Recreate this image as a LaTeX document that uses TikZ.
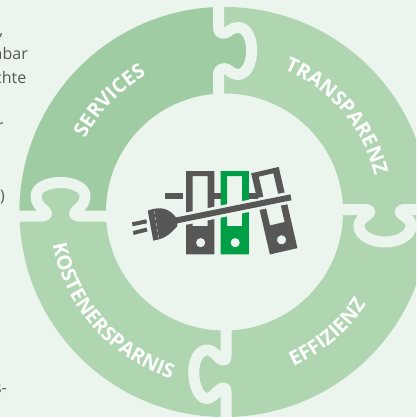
\documentclass[tikz,border=0pt]{standalone}
\usepackage{fontspec}
\setmainfont{Open Sans}
\usetikzlibrary{decorations.text}

\definecolor{pagebg}{HTML}{EBF5EE}
\definecolor{ringdark}{HTML}{A0CCA3}
\definecolor{ringlight}{HTML}{AFD6B1}
\definecolor{icongrey}{HTML}{575756}
\definecolor{icongreen}{HTML}{009F45}

\tikzset{
  seam/.style={draw=pagebg, line width=11pt, line join=round},
  margintext/.style={inner sep=0pt, text=icongrey, font=\fontsize{16}{16}\selectfont, anchor=base east},
  halo/.style={draw=pagebg, line width=12pt},
  bar/.style={draw=icongrey, line width=6.3pt}
}

% seams between the four ring pieces
\newcommand{\seamtop}{(218.5,0) -- (218.5,27) .. controls (218.5,33) and (221,33.5) .. (225,33) .. controls (229,32) and (231,27.5) .. (238,27.5) .. controls (247,27.5) and (251.7,39) .. (251.7,50) .. controls (251.7,62) and (247,74.5) .. (238,74.5) .. controls (231,74.5) and (229,68.5) .. (224,68.5) .. controls (221,68.5) and (218.5,70) .. (218.5,75) -- (218.5,100)}
\newcommand{\seamleft}{-- (79,216) .. controls (74,216) and (73,213) .. (77,210) .. controls (83,205) and (85,201) .. (85,196) .. controls (85,188) and (74,182.5) .. (60.5,182.5) .. controls (47,182.5) and (36,188) .. (36,196) .. controls (36,201) and (38,205) .. (44,210) .. controls (48,213) and (47,216) .. (42,216) -- (10,216)}
\newcommand{\seamright}{(340,209.5) -- (366,209.5) .. controls (371,209.5) and (371,213) .. (366,216) .. controls (361,219) and (359,222) .. (359,226) .. controls (359,235) and (371,242) .. (385,242) .. controls (399,242) and (411,235) .. (411,226) .. controls (411,222) and (409,219) .. (404,216) .. controls (399,213) and (399,209.5) .. (404,209.5) -- (425,209.5)}
\newcommand{\seambottom}{(226,325) -- (226,356) .. controls (226,362) and (222,361) .. (218,357) .. controls (215,353) and (211,350) .. (207,350) .. controls (199,350) and (193.7,360) .. (193.7,372) .. controls (193.7,385) and (199,398.5) .. (207,398.5) .. controls (211,398.5) and (215,394) .. (218,391) .. controls (222,387) and (226,386) .. (226,392) -- (226,420)}

% one binder: centre x, centre y, rotation, colour
\newcommand{\binder}[4]{
  \begin{scope}[shift={(#1,#2)}, rotate=#3]
    \fill[#4, even odd rule] (-14.15,-41.65) rectangle (14.15,41.65)
      (-7.5,-36.65) rectangle (7.5,13.35)
      (0.5,30) circle (4.7pt);
  \end{scope}
}

% one label on the ring: start angle, end angle, radius, text
\newcommand{\ringlabel}[4]{
  \path[decorate, decoration={text along path, text align=center,
      text={|\fontsize{20}{20}\selectfont\bfseries\color{white}|#4}}]
    ([shift={(#1:#3pt)}]ringcentre) arc[start angle=#1, end angle=#2, radius=#3pt];
}

\begin{document}
\begin{tikzpicture}[x=1pt, y=-1pt]
  \path[use as bounding box, clip] (0,0) rectangle (416,417);
  \fill[pagebg] (0,0) rectangle (416,417);
  \coordinate (ringcentre) at (224.5,212);

  % ring
  \fill[ringlight] (ringcentre) circle (205pt);
  \begin{scope}
    \clip (ringcentre) circle (205pt);
    \fill[ringdark] \seamtop -- (115,216) \seamleft -- (10,0) -- cycle;
  \end{scope}
  \fill[pagebg] (ringcentre) circle (118.5pt);

  \draw[seam] \seamtop;
  \draw[seam] (115,216) \seamleft;
  \draw[seam] \seamright;
  \draw[seam] \seambottom;

  % labels
  \ringlabel{166}{106}{157.5}{SERVICES}
  \ringlabel{76}{5}{154.5}{TRANSPARENZ}
  \ringlabel{-87}{-12}{169}{EFFIZIENZ}
  \ringlabel{175}{268}{175}{KOSTENERSPARNIS}

  % binders
  \binder{200.15}{212.65}{0}{icongrey}
  \binder{234.7}{212.65}{0}{icongreen}
  \binder{274.3}{210.7}{13}{icongrey}

  % plug
  \draw[halo] (176,220.7) -- (300,195.5);
  \draw[bar] (165,195.8) -- (182.7,195.8);
  \draw[bar] (214.3,195.8) -- (220.7,195.8);
  \draw[bar] (248.7,195.8) -- (258,195.8);
  \draw[icongrey, line width=6pt] (175,220.7) -- (291,197.3);
  \fill[icongrey] (147.7,210.7) -- (153,209) .. controls (165,206) and (173,212) .. (178,220.5)
    -- (177,226.5) .. controls (172,232) and (166,238) .. (159,239.3) -- (153.3,240.7) -- cycle;
  \draw[pagebg, line width=0.4pt, dashed] (154,211) -- (158.6,238.5);
  \draw[icongrey, line width=4pt] (132.3,224.3) -- (146.7,221.3);
  \draw[icongrey, line width=4pt] (133.3,233) -- (147,229.5);

  % cut off paragraph on the left
  \node[margintext] (lineone) at (3.5,36) {,};
  \node[margintext] (linetwo) at (28,60) {nbar};
  \node[margintext] (linethree) at (26.5,84) {chte};
  \node[margintext] (linefour) at (3.5,131.7) {r};
  \node[margintext] (linefive) at (5,201) {)};
  \node[margintext] (linesix) at (7,393) {s-};
\end{tikzpicture}
\end{document}
